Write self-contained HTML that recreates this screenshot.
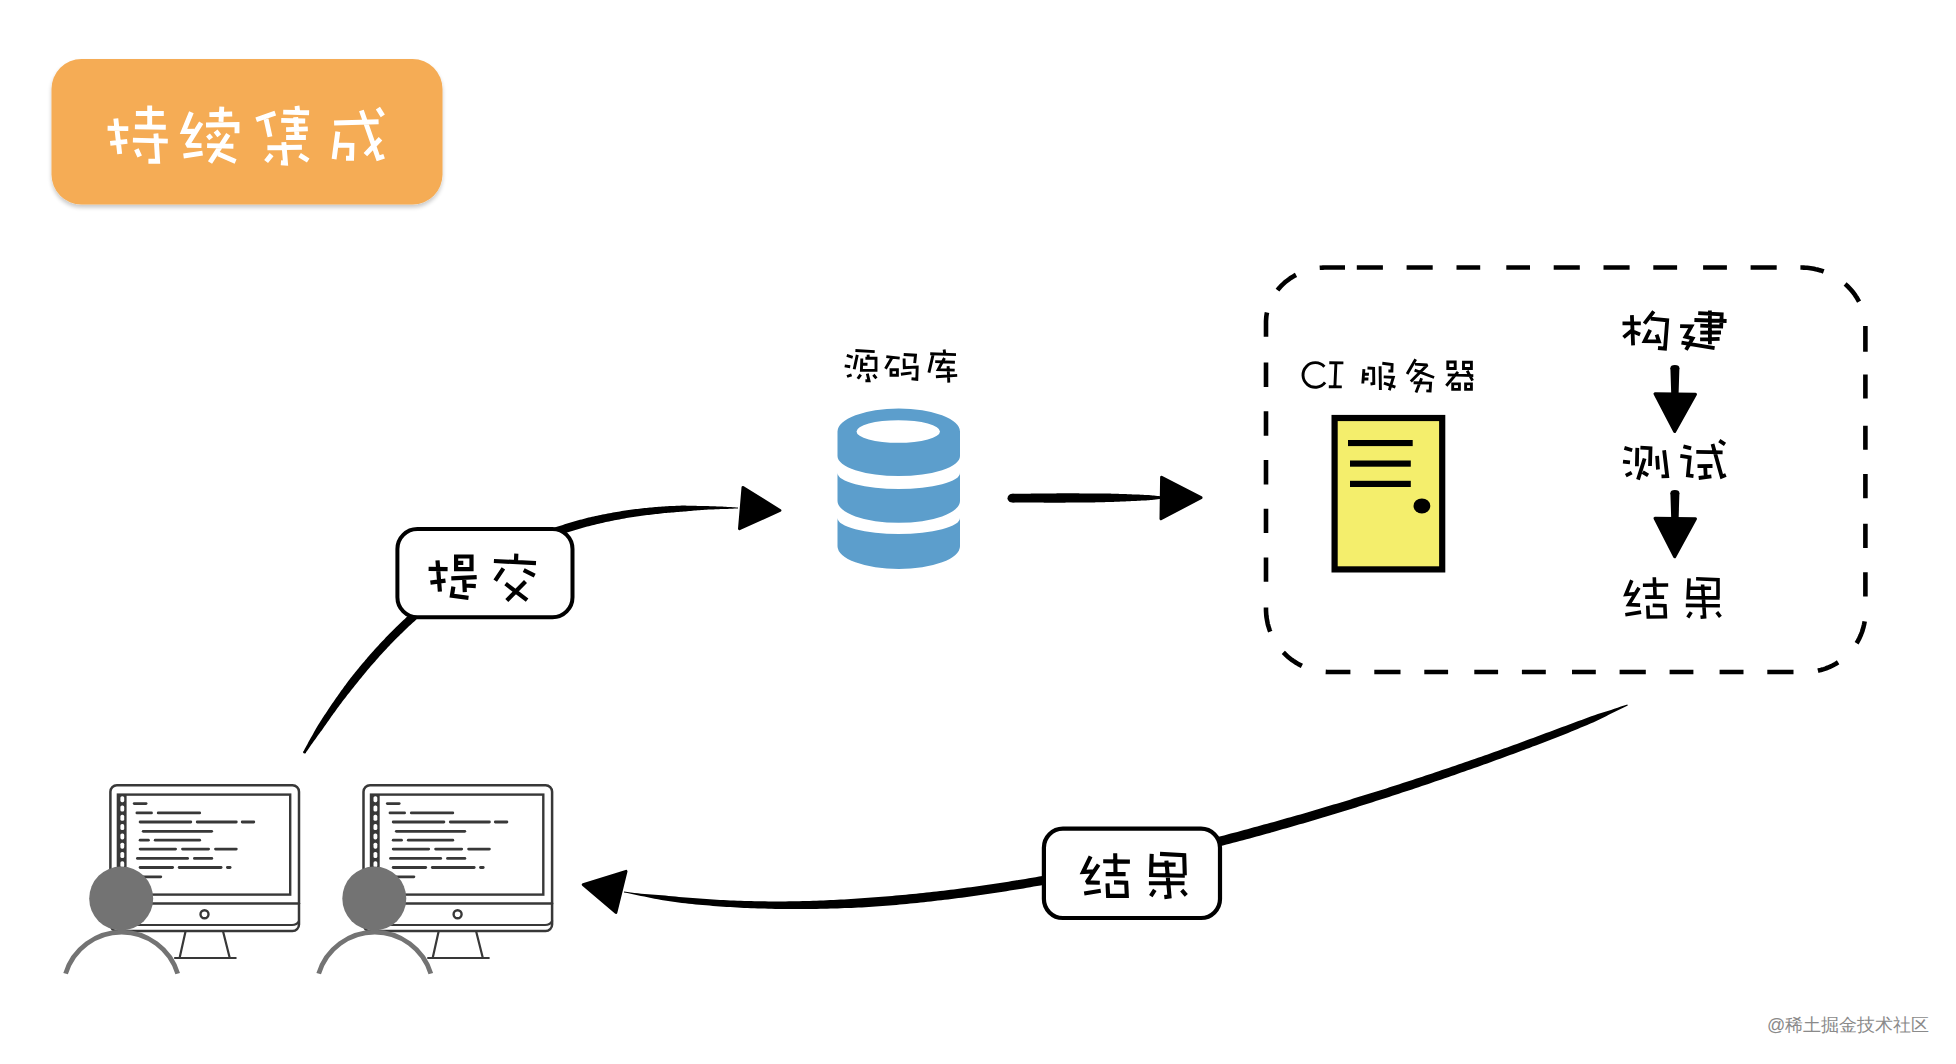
<!DOCTYPE html><html><head><meta charset="utf-8"><style>
html,body{margin:0;padding:0;background:#fff;width:1956px;height:1064px;overflow:hidden}
svg{position:absolute;left:0;top:0}
.t{font-family:"Liberation Sans",sans-serif}
</style></head><body>
<svg width="1956" height="1064" viewBox="0 0 1956 1064">
<defs>
<filter id="sh" x="-10%" y="-10%" width="120%" height="140%"><feGaussianBlur in="SourceAlpha" stdDeviation="2"/><feOffset dy="2.5"/><feComponentTransfer><feFuncA type="linear" slope="0.22"/></feComponentTransfer><feMerge><feMergeNode/><feMergeNode in="SourceGraphic"/></feMerge></filter>
</defs>

<rect x="51.5" y="59" width="391" height="145.5" rx="30" ry="30" fill="#F5AC55" filter="url(#sh)"/>
<path d="M1319.7,267.8 L1321.3,267.7 L1322.9,267.6 L1324.4,267.5 L1326.0,267.5 L1326.0,267.5 L1328.4,267.5 L1330.7,267.5 L1333.1,267.5 L1335.5,267.5 L1337.9,267.5 L1340.2,267.5 L1342.6,267.5 L1345.0,267.5 M1356.8,267.5 L1359.2,267.5 L1361.6,267.5 L1364.0,267.5 L1366.3,267.5 L1368.7,267.5 L1371.1,267.5 L1373.4,267.5 L1375.8,267.5 L1378.2,267.5 L1380.6,267.5 L1382.9,267.5 M1406.6,267.5 L1409.0,267.5 L1411.4,267.5 L1413.8,267.5 L1416.1,267.5 L1418.5,267.5 L1420.9,267.5 L1423.3,267.5 L1425.6,267.5 L1428.0,267.5 L1430.4,267.5 L1432.7,267.5 M1456.5,267.5 L1458.8,267.5 L1461.2,267.5 L1463.6,267.5 L1465.9,267.5 L1468.3,267.5 L1470.7,267.5 L1473.1,267.5 L1475.4,267.5 L1477.8,267.5 L1480.2,267.5 M1506.3,267.5 L1508.6,267.5 L1511.0,267.5 L1513.4,267.5 L1515.8,267.5 L1518.1,267.5 L1520.5,267.5 L1522.9,267.5 L1525.2,267.5 L1527.6,267.5 L1530.0,267.5 M1553.7,267.5 L1556.1,267.5 L1558.5,267.5 L1560.8,267.5 L1563.2,267.5 L1565.6,267.5 L1567.9,267.5 L1570.3,267.5 L1572.7,267.5 L1575.1,267.5 L1577.4,267.5 L1579.8,267.5 M1603.5,267.5 L1605.9,267.5 L1608.3,267.5 L1610.6,267.5 L1613.0,267.5 L1615.4,267.5 L1617.8,267.5 L1620.1,267.5 L1622.5,267.5 L1624.9,267.5 L1627.2,267.5 L1629.6,267.5 M1653.3,267.5 L1655.7,267.5 L1658.1,267.5 L1660.5,267.5 L1662.8,267.5 L1665.2,267.5 L1667.6,267.5 L1669.9,267.5 L1672.3,267.5 L1674.7,267.5 L1677.1,267.5 M1703.1,267.5 L1705.5,267.5 L1707.9,267.5 L1710.3,267.5 L1712.6,267.5 L1715.0,267.5 L1717.4,267.5 L1719.8,267.5 L1722.1,267.5 L1724.5,267.5 L1726.9,267.5 M1750.6,267.5 L1753.0,267.5 L1755.3,267.5 L1757.7,267.5 L1760.1,267.5 L1762.4,267.5 L1764.8,267.5 L1767.2,267.5 L1769.6,267.5 L1771.9,267.5 L1774.3,267.5 L1776.7,267.5 M1800.4,267.5 L1800.4,267.5 L1802.1,267.5 L1803.8,267.6 L1805.5,267.7 L1807.2,267.8 L1808.9,268.0 L1810.6,268.2 L1812.2,268.5 L1813.9,268.8 L1815.6,269.2 L1817.2,269.5 L1818.9,270.0 L1820.5,270.4 L1822.1,270.9 L1823.7,271.5 M1845.1,284.0 L1846.4,285.1 L1847.5,286.2 L1848.7,287.4 L1849.8,288.5 L1850.9,289.7 L1852.0,291.0 L1853.0,292.2 L1854.0,293.5 L1854.9,294.8 L1855.8,296.2 L1856.7,297.5 L1857.5,298.9 L1858.3,300.3 L1859.1,301.7 M1865.4,325.9 L1865.4,327.5 L1865.4,327.5 L1865.4,328.9 L1865.4,330.3 L1865.4,331.8 L1865.4,333.2 L1865.4,334.6 L1865.4,336.0 L1865.4,337.5 L1865.4,338.9 L1865.4,340.3 L1865.4,341.7 L1865.4,343.1 L1865.4,344.6 L1865.4,346.0 L1865.4,347.4 L1865.4,348.8 L1865.4,350.3 L1865.4,351.7 M1865.4,374.4 L1865.4,375.9 L1865.4,377.3 L1865.4,378.7 L1865.4,380.1 L1865.4,381.6 L1865.4,383.0 L1865.4,384.4 L1865.4,385.8 L1865.4,387.2 L1865.4,388.7 L1865.4,390.1 L1865.4,391.5 L1865.4,392.9 L1865.4,394.4 L1865.4,395.8 L1865.4,397.2 L1865.4,398.6 M1865.4,425.7 L1865.4,427.1 L1865.4,428.5 L1865.4,429.9 L1865.4,431.3 L1865.4,432.8 L1865.4,434.2 L1865.4,435.6 L1865.4,437.0 L1865.4,438.5 L1865.4,439.9 L1865.4,441.3 L1865.4,442.7 L1865.4,444.1 L1865.4,445.6 L1865.4,447.0 L1865.4,448.4 L1865.4,449.8 M1865.4,474.0 L1865.4,475.4 L1865.4,476.9 L1865.4,478.3 L1865.4,479.7 L1865.4,481.1 L1865.4,482.6 L1865.4,484.0 L1865.4,485.4 L1865.4,486.8 L1865.4,488.2 L1865.4,489.7 L1865.4,491.1 L1865.4,492.5 L1865.4,493.9 L1865.4,495.4 L1865.4,496.8 L1865.4,498.2 M1865.4,523.8 L1865.4,525.2 L1865.4,526.6 L1865.4,528.1 L1865.4,529.5 L1865.4,530.9 L1865.4,532.3 L1865.4,533.8 L1865.4,535.2 L1865.4,536.6 L1865.4,538.0 L1865.4,539.5 L1865.4,540.9 L1865.4,542.3 L1865.4,543.7 L1865.4,545.1 L1865.4,546.6 L1865.4,548.0 M1865.4,572.2 L1865.4,573.6 L1865.4,575.0 L1865.4,576.4 L1865.4,577.9 L1865.4,579.3 L1865.4,580.7 L1865.4,582.1 L1865.4,583.5 L1865.4,585.0 L1865.4,586.4 L1865.4,587.8 L1865.4,589.2 L1865.4,590.7 L1865.4,592.1 L1865.4,593.5 L1865.4,594.9 L1865.4,596.4 M1864.7,621.4 L1864.4,622.9 L1864.1,624.5 L1863.7,626.0 L1863.4,627.5 L1862.9,629.0 L1862.5,630.5 L1862.0,632.0 L1861.4,633.5 L1860.8,635.0 L1860.2,636.4 L1859.6,637.8 L1858.9,639.2 L1858.1,640.6 L1857.4,642.0 L1856.6,643.3 M1838.1,662.3 L1836.7,663.2 L1835.4,664.0 L1834.0,664.7 L1832.6,665.5 L1831.2,666.2 L1829.8,666.8 L1828.4,667.4 L1826.9,668.0 L1825.4,668.6 L1823.9,669.1 L1822.4,669.5 L1820.9,670.0 L1819.4,670.3 L1817.9,670.7 M1350.4,672.0 L1348.1,672.0 L1345.7,672.0 L1343.3,672.0 L1340.9,672.0 L1338.5,672.0 L1336.1,672.0 L1333.8,672.0 L1331.4,672.0 L1329.0,672.0 L1329.0,672.0 L1327.4,672.0 L1325.7,671.9 M1400.5,672.0 L1398.1,672.0 L1395.7,672.0 L1393.3,672.0 L1390.9,672.0 L1388.5,672.0 L1386.2,672.0 L1383.8,672.0 L1381.4,672.0 L1379.0,672.0 L1376.6,672.0 L1374.3,672.0 M1448.1,672.0 L1445.7,672.0 L1443.3,672.0 L1441.0,672.0 L1438.6,672.0 L1436.2,672.0 L1433.8,672.0 L1431.4,672.0 L1429.0,672.0 L1426.7,672.0 L1424.3,672.0 M1498.1,672.0 L1495.7,672.0 L1493.4,672.0 L1491.0,672.0 L1488.6,672.0 L1486.2,672.0 L1483.8,672.0 L1481.4,672.0 L1479.1,672.0 L1476.7,672.0 L1474.3,672.0 M1545.8,672.0 L1543.4,672.0 L1541.0,672.0 L1538.6,672.0 L1536.2,672.0 L1533.9,672.0 L1531.5,672.0 L1529.1,672.0 L1526.7,672.0 L1524.3,672.0 L1521.9,672.0 M1595.8,672.0 L1593.4,672.0 L1591.0,672.0 L1588.6,672.0 L1586.3,672.0 L1583.9,672.0 L1581.5,672.0 L1579.1,672.0 L1576.7,672.0 L1574.3,672.0 L1572.0,672.0 M1645.8,672.0 L1643.4,672.0 L1641.0,672.0 L1638.7,672.0 L1636.3,672.0 L1633.9,672.0 L1631.5,672.0 L1629.1,672.0 L1626.8,672.0 L1624.4,672.0 L1622.0,672.0 L1619.6,672.0 M1693.4,672.0 L1691.1,672.0 L1688.7,672.0 L1686.3,672.0 L1683.9,672.0 L1681.5,672.0 L1679.2,672.0 L1676.8,672.0 L1674.4,672.0 L1672.0,672.0 L1669.6,672.0 M1743.5,672.0 L1741.1,672.0 L1738.7,672.0 L1736.3,672.0 L1733.9,672.0 L1731.6,672.0 L1729.2,672.0 L1726.8,672.0 L1724.4,672.0 L1722.0,672.0 L1719.6,672.0 M1793.5,672.0 L1791.1,672.0 L1788.7,672.0 L1786.3,672.0 L1784.0,672.0 L1781.6,672.0 L1779.2,672.0 L1776.8,672.0 L1774.4,672.0 L1772.1,672.0 L1769.7,672.0 L1767.3,672.0 M1301.9,665.9 L1300.4,665.1 L1298.9,664.4 L1297.5,663.6 L1296.1,662.7 L1294.7,661.8 L1293.3,660.9 L1292.0,660.0 L1290.6,659.0 L1289.4,658.0 L1288.1,656.9 L1286.8,655.8 L1285.6,654.7 L1284.5,653.5 L1283.3,652.4 M1270.2,631.6 L1269.6,630.0 L1269.1,628.5 L1268.6,626.9 L1268.1,625.3 L1267.7,623.7 L1267.4,622.1 L1267.1,620.5 L1266.8,618.9 L1266.5,617.2 L1266.3,615.6 L1266.2,613.9 L1266.1,612.3 L1266.0,610.6 L1266.0,609.0 L1266.0,609.0 L1266.0,607.6 M1266.0,581.8 L1266.0,580.4 L1266.0,578.9 L1266.0,577.5 L1266.0,576.1 L1266.0,574.6 L1266.0,573.2 L1266.0,571.8 L1266.0,570.3 L1266.0,568.9 L1266.0,567.5 L1266.0,566.0 L1266.0,564.6 L1266.0,563.2 L1266.0,561.7 L1266.0,560.3 L1266.0,558.9 L1266.0,557.4 M1266.0,533.1 L1266.0,531.6 L1266.0,530.2 L1266.0,528.8 L1266.0,527.3 L1266.0,525.9 L1266.0,524.5 L1266.0,523.0 L1266.0,521.6 L1266.0,520.2 L1266.0,518.8 L1266.0,517.3 L1266.0,515.9 L1266.0,514.5 L1266.0,513.0 L1266.0,511.6 L1266.0,510.2 L1266.0,508.7 M1266.0,484.4 L1266.0,482.9 L1266.0,481.5 L1266.0,480.1 L1266.0,478.6 L1266.0,477.2 L1266.0,475.8 L1266.0,474.3 L1266.0,472.9 L1266.0,471.5 L1266.0,470.0 L1266.0,468.6 L1266.0,467.2 L1266.0,465.8 L1266.0,464.3 L1266.0,462.9 L1266.0,461.5 L1266.0,460.0 M1266.0,435.7 L1266.0,434.2 L1266.0,432.8 L1266.0,431.4 L1266.0,429.9 L1266.0,428.5 L1266.0,427.1 L1266.0,425.6 L1266.0,424.2 L1266.0,422.8 L1266.0,421.3 L1266.0,419.9 L1266.0,418.5 L1266.0,417.0 L1266.0,415.6 L1266.0,414.2 L1266.0,412.7 L1266.0,411.3 M1266.0,387.0 L1266.0,385.5 L1266.0,384.1 L1266.0,382.7 L1266.0,381.2 L1266.0,379.8 L1266.0,378.4 L1266.0,376.9 L1266.0,375.5 L1266.0,374.1 L1266.0,372.6 L1266.0,371.2 L1266.0,369.8 L1266.0,368.3 L1266.0,366.9 L1266.0,365.5 L1266.0,364.0 L1266.0,362.6 M1266.0,336.8 L1266.0,335.4 L1266.0,334.0 L1266.0,332.5 L1266.0,331.1 L1266.0,329.7 L1266.0,328.2 L1266.0,326.8 L1266.0,325.4 L1266.0,323.9 L1266.0,322.5 L1266.0,322.5 L1266.0,321.1 L1266.1,319.6 L1266.2,318.2 L1266.3,316.8 L1266.5,315.3 L1266.7,313.9 L1267.0,312.5 M1277.5,290.2 L1278.4,289.0 L1279.4,287.9 L1280.4,286.8 L1281.4,285.7 L1282.5,284.6 L1283.6,283.6 L1284.7,282.6 L1285.9,281.6 L1287.0,280.7 L1288.2,279.8 L1289.5,278.9 L1290.7,278.0 L1292.0,277.2 L1293.3,276.4 L1294.7,275.6 L1296.0,274.9" fill="none" stroke="#000" stroke-width="4.6" stroke-linecap="butt"/>
<path fill="#5C9ECC" fill-rule="evenodd" d="M837.5,431.5 A61.25,23 0 0 1 960,431.5 L960,456 A61.25,20 0 0 1 837.5,456 Z M856.5,431.5 A41.75,11.3 0 0 0 940,431.5 A41.75,11.3 0 0 0 856.5,431.5Z"/>
<path fill="#5C9ECC" d="M837.5,473 A61.25,16 0 0 0 960,473 L960,501 A61.25,21.8 0 0 1 837.5,501 Z"/>
<path fill="#5C9ECC" d="M837.5,518 A61.25,16 0 0 0 960,518 L960,546.3 A61.25,22.7 0 0 1 837.5,546.3 Z"/>
<rect x="1334.6" y="418" width="107.6" height="151.4" fill="#F4EE6C" stroke="#000" stroke-width="6.2"/>
<rect x="1348" y="440" width="64.7" height="6.1" fill="#000"/>
<rect x="1350" y="460.5" width="60.8" height="6.2" fill="#000"/>
<rect x="1350" y="480.8" width="60.8" height="6.2" fill="#000"/>
<ellipse cx="1421.9" cy="505.9" rx="8.4" ry="7.5" fill="#000"/>
<g transform="translate(0,0)" fill="none" stroke="#383838" stroke-linecap="round"><rect x="110.4" y="785.3" width="188.6" height="145.7" rx="6.5" stroke-width="2.5"/><line x1="110.4" y1="903.6" x2="299" y2="903.6" stroke-width="2.5"/><path d="M130,925 L292,925 Q297,925 299,921" stroke-width="2.1"/><rect x="117.9" y="794.6" width="172.3" height="100" stroke-width="2.4"/><rect x="118" y="794.6" width="8.6" height="100" fill="#383838" stroke="none"/><rect x="120.4" y="796.2" width="3.8" height="6" rx="1.6" fill="#fff" stroke="none"/><rect x="120.4" y="805.5" width="3.8" height="6" rx="1.6" fill="#fff" stroke="none"/><rect x="120.4" y="814.8" width="3.8" height="6" rx="1.6" fill="#fff" stroke="none"/><rect x="120.4" y="824.1" width="3.8" height="6" rx="1.6" fill="#fff" stroke="none"/><rect x="120.4" y="833.4" width="3.8" height="6" rx="1.6" fill="#fff" stroke="none"/><rect x="120.4" y="842.7" width="3.8" height="6" rx="1.6" fill="#fff" stroke="none"/><rect x="120.4" y="852.0" width="3.8" height="6" rx="1.6" fill="#fff" stroke="none"/><rect x="120.4" y="861.3" width="3.8" height="6" rx="1.6" fill="#fff" stroke="none"/><rect x="120.4" y="870.6" width="3.8" height="6" rx="1.6" fill="#fff" stroke="none"/><rect x="120.4" y="879.9" width="3.8" height="6" rx="1.6" fill="#fff" stroke="none"/><circle cx="204.5" cy="914.3" r="4" stroke-width="2.4"/><path d="M185.4,932 L179.8,957 M223.2,932 L229.5,957 M175,958 L235.7,958" stroke-width="2.2"/><line x1="134.2" y1="803.6" x2="146.1" y2="803.6" stroke-width="2.8"/><line x1="136.9" y1="812.9" x2="151.5" y2="812.9" stroke-width="2.8"/><line x1="158.2" y1="812.9" x2="199.7" y2="812.9" stroke-width="2.8"/><line x1="140.1" y1="822.0" x2="190.8" y2="822.0" stroke-width="2.8"/><line x1="197.2" y1="822.0" x2="236.3" y2="822.0" stroke-width="2.8"/><line x1="242.2" y1="822.0" x2="253.8" y2="822.0" stroke-width="2.8"/><line x1="143.2" y1="831.3" x2="211.7" y2="831.3" stroke-width="2.8"/><line x1="140.1" y1="840.2" x2="148.4" y2="840.2" stroke-width="2.8"/><line x1="155.2" y1="840.2" x2="199.7" y2="840.2" stroke-width="2.8"/><line x1="140.1" y1="849.1" x2="175.6" y2="849.1" stroke-width="2.8"/><line x1="182.5" y1="849.1" x2="208.6" y2="849.1" stroke-width="2.8"/><line x1="215.5" y1="849.1" x2="236.3" y2="849.1" stroke-width="2.8"/><line x1="137.4" y1="858.4" x2="187.6" y2="858.4" stroke-width="2.8"/><line x1="194.4" y1="858.4" x2="211.8" y2="858.4" stroke-width="2.8"/><line x1="140.1" y1="867.5" x2="172.6" y2="867.5" stroke-width="2.8"/><line x1="179.2" y1="867.5" x2="221.1" y2="867.5" stroke-width="2.8"/><line x1="227.4" y1="867.5" x2="230.1" y2="867.5" stroke-width="2.8"/><line x1="142.2" y1="876.8" x2="160.8" y2="876.8" stroke-width="2.8"/></g><g transform="translate(0,0)"><path d="M65.6,973.6 A58.6,58.6 0 0 1 177.7,973.6" fill="none" stroke="#737373" stroke-width="4.8" stroke-linecap="butt"/><circle cx="121.2" cy="898.5" r="32" fill="#737373"/></g>
<g transform="translate(253.1,0)" fill="none" stroke="#383838" stroke-linecap="round"><rect x="110.4" y="785.3" width="188.6" height="145.7" rx="6.5" stroke-width="2.5"/><line x1="110.4" y1="903.6" x2="299" y2="903.6" stroke-width="2.5"/><path d="M130,925 L292,925 Q297,925 299,921" stroke-width="2.1"/><rect x="117.9" y="794.6" width="172.3" height="100" stroke-width="2.4"/><rect x="118" y="794.6" width="8.6" height="100" fill="#383838" stroke="none"/><rect x="120.4" y="796.2" width="3.8" height="6" rx="1.6" fill="#fff" stroke="none"/><rect x="120.4" y="805.5" width="3.8" height="6" rx="1.6" fill="#fff" stroke="none"/><rect x="120.4" y="814.8" width="3.8" height="6" rx="1.6" fill="#fff" stroke="none"/><rect x="120.4" y="824.1" width="3.8" height="6" rx="1.6" fill="#fff" stroke="none"/><rect x="120.4" y="833.4" width="3.8" height="6" rx="1.6" fill="#fff" stroke="none"/><rect x="120.4" y="842.7" width="3.8" height="6" rx="1.6" fill="#fff" stroke="none"/><rect x="120.4" y="852.0" width="3.8" height="6" rx="1.6" fill="#fff" stroke="none"/><rect x="120.4" y="861.3" width="3.8" height="6" rx="1.6" fill="#fff" stroke="none"/><rect x="120.4" y="870.6" width="3.8" height="6" rx="1.6" fill="#fff" stroke="none"/><rect x="120.4" y="879.9" width="3.8" height="6" rx="1.6" fill="#fff" stroke="none"/><circle cx="204.5" cy="914.3" r="4" stroke-width="2.4"/><path d="M185.4,932 L179.8,957 M223.2,932 L229.5,957 M175,958 L235.7,958" stroke-width="2.2"/><line x1="134.2" y1="803.6" x2="146.1" y2="803.6" stroke-width="2.8"/><line x1="136.9" y1="812.9" x2="151.5" y2="812.9" stroke-width="2.8"/><line x1="158.2" y1="812.9" x2="199.7" y2="812.9" stroke-width="2.8"/><line x1="140.1" y1="822.0" x2="190.8" y2="822.0" stroke-width="2.8"/><line x1="197.2" y1="822.0" x2="236.3" y2="822.0" stroke-width="2.8"/><line x1="242.2" y1="822.0" x2="253.8" y2="822.0" stroke-width="2.8"/><line x1="143.2" y1="831.3" x2="211.7" y2="831.3" stroke-width="2.8"/><line x1="140.1" y1="840.2" x2="148.4" y2="840.2" stroke-width="2.8"/><line x1="155.2" y1="840.2" x2="199.7" y2="840.2" stroke-width="2.8"/><line x1="140.1" y1="849.1" x2="175.6" y2="849.1" stroke-width="2.8"/><line x1="182.5" y1="849.1" x2="208.6" y2="849.1" stroke-width="2.8"/><line x1="215.5" y1="849.1" x2="236.3" y2="849.1" stroke-width="2.8"/><line x1="137.4" y1="858.4" x2="187.6" y2="858.4" stroke-width="2.8"/><line x1="194.4" y1="858.4" x2="211.8" y2="858.4" stroke-width="2.8"/><line x1="140.1" y1="867.5" x2="172.6" y2="867.5" stroke-width="2.8"/><line x1="179.2" y1="867.5" x2="221.1" y2="867.5" stroke-width="2.8"/><line x1="227.4" y1="867.5" x2="230.1" y2="867.5" stroke-width="2.8"/><line x1="142.2" y1="876.8" x2="160.8" y2="876.8" stroke-width="2.8"/></g><g transform="translate(253.1,0)"><path d="M65.6,973.6 A58.6,58.6 0 0 1 177.7,973.6" fill="none" stroke="#737373" stroke-width="4.8" stroke-linecap="butt"/><circle cx="121.2" cy="898.5" r="32" fill="#737373"/></g>
<path fill="#000" d="M305.4,753.3 L306.4,751.8 L307.4,750.4 L308.4,748.9 L309.4,747.5 L310.4,746.1 L311.4,744.6 L312.4,743.2 L313.4,741.8 L314.5,740.3 L315.5,738.9 L316.5,737.5 L317.5,736.1 L318.6,734.6 L319.6,733.2 L320.6,731.8 L321.7,730.4 L322.7,729.0 L323.7,727.6 L324.7,726.1 L325.7,724.7 L326.7,723.2 L327.7,721.8 L328.7,720.4 L329.7,719.0 L330.7,717.5 L331.7,716.1 L332.7,714.7 L333.7,713.3 L334.8,711.9 L335.8,710.4 L336.8,709.0 L337.9,707.6 L338.9,706.2 L339.9,704.8 L341.0,703.4 L342.0,702.0 L343.1,700.6 L344.1,699.3 L345.2,697.9 L346.3,696.5 L347.3,695.1 L348.4,693.7 L349.5,692.4 L350.6,691.0 L351.7,689.6 L352.8,688.3 L353.8,686.9 L354.9,685.5 L356.0,684.2 L357.2,682.8 L358.2,681.5 L359.3,680.1 L360.4,678.7 L361.5,677.4 L362.6,676.0 L363.7,674.7 L364.9,673.3 L366.0,672.0 L367.1,670.6 L368.2,669.3 L369.3,668.0 L370.5,666.6 L371.6,665.3 L372.8,664.0 L373.9,662.7 L375.1,661.4 L376.2,660.0 L377.4,658.7 L378.5,657.4 L379.7,656.1 L380.9,654.8 L382.1,653.5 L383.2,652.3 L384.4,651.0 L385.6,649.7 L386.8,648.4 L388.0,647.1 L389.2,645.9 L390.4,644.6 L391.7,643.3 L392.9,642.1 L394.1,640.8 L395.3,639.6 L396.6,638.3 L397.8,637.1 L399.0,635.9 L400.3,634.6 L401.5,633.4 L402.8,632.2 L404.0,631.0 L405.3,629.7 L406.6,628.5 L407.9,627.3 L409.1,626.1 L410.4,624.9 L411.7,623.7 L413.0,622.6 L414.3,621.4 L415.6,620.2 L416.9,619.0 L418.2,617.9 L419.5,616.7 L420.8,615.5 L422.1,614.4 L423.5,613.2 L424.8,612.1 L426.1,611.0 L427.5,609.8 L428.8,608.7 L430.2,607.6 L431.5,606.5 L432.9,605.4 L434.2,604.3 L435.6,603.2 L437.0,602.1 L438.3,601.0 L439.7,599.9 L441.1,598.8 L442.5,597.8 L443.9,596.7 L445.3,595.6 L446.7,594.6 L448.1,593.5 L449.5,592.5 L450.9,591.4 L452.3,590.4 L453.7,589.4 L455.2,588.4 L456.6,587.4 L458.0,586.4 L459.4,585.4 L460.9,584.4 L462.3,583.4 L463.8,582.4 L465.2,581.4 L466.7,580.4 L468.1,579.5 L469.6,578.5 L471.1,577.6 L472.6,576.6 L474.0,575.7 L475.5,574.8 L477.0,573.8 L478.5,572.9 L480.0,572.0 L481.5,571.1 L483.0,570.2 L484.5,569.3 L486.0,568.4 L487.5,567.5 L489.0,566.7 L490.5,565.8 L492.0,564.9 L493.6,564.1 L495.1,563.2 L496.6,562.4 L498.2,561.6 L499.7,560.7 L501.2,559.9 L502.8,559.1 L504.3,558.3 L505.9,557.5 L507.4,556.7 L509.0,555.9 L510.6,555.1 L512.1,554.4 L513.7,553.6 L515.3,552.8 L516.8,552.1 L518.4,551.4 L520.0,550.6 L521.6,549.9 L523.2,549.2 L524.8,548.5 L526.4,547.7 L528.0,547.0 L529.6,546.4 L531.2,545.7 L532.8,545.0 L534.4,544.3 L536.0,543.7 L537.6,543.0 L539.2,542.3 L540.8,541.7 L542.5,541.1 L544.1,540.4 L545.7,539.8 L547.3,539.2 L549.0,538.6 L550.6,538.0 L552.2,537.4 L553.9,536.8 L555.5,536.3 L557.2,535.7 L558.8,535.1 L560.5,534.6 L562.1,534.0 L563.8,533.5 L565.4,532.9 L567.1,532.4 L568.8,531.9 L570.4,531.4 L572.1,530.9 L573.8,530.4 L575.4,529.9 L577.1,529.4 L578.8,528.9 L580.5,528.4 L582.1,528.0 L583.8,527.5 L585.5,527.1 L587.2,526.6 L588.9,526.2 L590.6,525.8 L592.3,525.3 L593.9,524.9 L595.6,524.5 L597.3,524.1 L599.0,523.7 L600.7,523.3 L602.4,522.9 L604.1,522.5 L605.8,522.1 L607.5,521.8 L609.2,521.4 L611.0,521.0 L612.7,520.7 L614.4,520.3 L616.1,520.0 L617.8,519.7 L619.5,519.4 L621.2,519.0 L623.0,518.7 L624.7,518.4 L626.4,518.1 L628.1,517.8 L629.8,517.6 L631.6,517.3 L633.3,517.0 L635.0,516.8 L636.7,516.5 L638.5,516.3 L640.2,516.0 L641.9,515.8 L643.7,515.5 L645.4,515.3 L647.1,515.1 L648.9,514.9 L650.6,514.7 L652.4,514.5 L654.1,514.3 L655.8,514.1 L657.6,513.9 L659.3,513.7 L661.1,513.5 L662.8,513.3 L664.5,513.1 L666.3,513.0 L668.0,512.8 L669.8,512.7 L671.5,512.5 L673.3,512.4 L675.0,512.2 L676.8,512.1 L678.5,512.0 L680.3,511.8 L682.0,511.7 L683.7,511.5 L685.5,511.4 L687.2,511.2 L689.0,511.0 L690.7,510.9 L692.5,510.7 L694.2,510.6 L696.0,510.4 L697.7,510.3 L699.5,510.2 L701.2,510.0 L703.0,509.9 L704.7,509.8 L706.5,509.7 L708.2,509.6 L710.0,509.6 L711.7,509.5 L713.5,509.4 L715.2,509.3 L717.0,509.3 L718.8,509.2 L720.5,509.1 L722.3,509.1 L724.0,509.0 L725.8,509.0 L727.5,508.9 L729.3,508.8 L731.0,508.7 L732.7,508.7 L734.5,508.6 L736.2,508.5 L738.0,508.4 L738.0,507.5 L736.3,507.4 L734.5,507.3 L732.8,507.2 L731.0,507.1 L729.3,507.0 L727.5,506.9 L725.8,506.8 L724.0,506.7 L722.3,506.6 L720.5,506.5 L718.8,506.5 L717.0,506.4 L715.2,506.3 L713.5,506.3 L711.7,506.2 L710.0,506.2 L708.2,506.1 L706.4,506.1 L704.7,506.1 L702.9,506.0 L701.2,506.0 L699.4,505.9 L697.6,505.9 L695.9,505.8 L694.1,505.8 L692.3,505.7 L690.6,505.7 L688.8,505.7 L687.0,505.7 L685.2,505.6 L683.5,505.6 L681.7,505.6 L679.9,505.7 L678.2,505.7 L676.4,505.8 L674.6,505.9 L672.9,506.0 L671.1,506.1 L669.3,506.1 L667.5,506.2 L665.8,506.3 L664.0,506.5 L662.2,506.6 L660.5,506.7 L658.7,506.8 L656.9,506.9 L655.2,507.1 L653.4,507.2 L651.6,507.4 L649.9,507.5 L648.1,507.7 L646.3,507.9 L644.6,508.1 L642.8,508.3 L641.0,508.5 L639.3,508.7 L637.5,508.9 L635.7,509.1 L634.0,509.3 L632.2,509.6 L630.5,509.8 L628.7,510.0 L626.9,510.3 L625.2,510.5 L623.4,510.8 L621.7,511.1 L619.9,511.4 L618.2,511.7 L616.4,511.9 L614.7,512.3 L612.9,512.6 L611.2,512.9 L609.4,513.2 L607.7,513.5 L605.9,513.9 L604.2,514.2 L602.4,514.6 L600.7,514.9 L599.0,515.3 L597.2,515.7 L595.5,516.0 L593.7,516.4 L592.0,516.8 L590.3,517.2 L588.5,517.6 L586.8,518.1 L585.1,518.5 L583.4,518.9 L581.7,519.4 L579.9,519.8 L578.2,520.3 L576.5,520.8 L574.8,521.3 L573.1,521.8 L571.4,522.3 L569.7,522.8 L568.0,523.3 L566.3,523.8 L564.6,524.3 L562.9,524.9 L561.2,525.4 L559.5,526.0 L557.8,526.5 L556.1,527.1 L554.4,527.7 L552.7,528.2 L551.1,528.8 L549.4,529.4 L547.7,530.0 L546.0,530.6 L544.4,531.3 L542.7,531.9 L541.0,532.5 L539.4,533.2 L537.7,533.8 L536.1,534.5 L534.4,535.1 L532.8,535.8 L531.1,536.5 L529.5,537.2 L527.8,537.9 L526.2,538.6 L524.6,539.3 L522.9,540.0 L521.3,540.7 L519.7,541.5 L518.1,542.2 L516.4,543.0 L514.8,543.7 L513.2,544.5 L511.6,545.2 L510.0,546.0 L508.4,546.8 L506.8,547.6 L505.2,548.4 L503.6,549.2 L502.0,550.0 L500.4,550.8 L498.9,551.6 L497.3,552.5 L495.7,553.3 L494.1,554.1 L492.6,555.0 L491.0,555.9 L489.5,556.7 L487.9,557.6 L486.4,558.5 L484.8,559.4 L483.3,560.3 L481.7,561.2 L480.2,562.1 L478.7,563.0 L477.1,563.9 L475.6,564.8 L474.1,565.8 L472.6,566.7 L471.0,567.6 L469.5,568.6 L468.0,569.6 L466.5,570.5 L465.0,571.5 L463.5,572.5 L462.1,573.5 L460.6,574.4 L459.1,575.4 L457.6,576.5 L456.1,577.5 L454.7,578.5 L453.2,579.5 L451.7,580.5 L450.3,581.6 L448.8,582.6 L447.4,583.7 L446.0,584.7 L444.5,585.8 L443.1,586.8 L441.7,587.9 L440.2,589.0 L438.8,590.1 L437.4,591.1 L436.0,592.2 L434.6,593.3 L433.2,594.4 L431.8,595.5 L430.4,596.7 L429.0,597.8 L427.6,598.9 L426.2,600.0 L424.8,601.2 L423.5,602.3 L422.1,603.5 L420.7,604.6 L419.4,605.8 L418.0,606.9 L416.7,608.1 L415.3,609.3 L414.0,610.5 L412.7,611.7 L411.3,612.8 L410.0,614.0 L408.7,615.2 L407.4,616.4 L406.1,617.6 L404.8,618.9 L403.5,620.1 L402.2,621.3 L400.9,622.5 L399.6,623.8 L398.3,625.0 L397.0,626.2 L395.7,627.5 L394.5,628.7 L393.2,630.0 L392.0,631.3 L390.7,632.5 L389.4,633.8 L388.2,635.1 L387.0,636.3 L385.7,637.6 L384.5,638.9 L383.3,640.2 L382.0,641.5 L380.8,642.8 L379.6,644.1 L378.4,645.4 L377.2,646.7 L376.0,648.0 L374.8,649.3 L373.6,650.7 L372.4,652.0 L371.3,653.3 L370.1,654.6 L368.9,656.0 L367.7,657.3 L366.6,658.7 L365.4,660.0 L364.3,661.4 L363.1,662.7 L362.0,664.1 L360.8,665.4 L359.7,666.8 L358.6,668.2 L357.5,669.5 L356.3,670.9 L355.2,672.3 L354.1,673.7 L353.0,675.0 L351.9,676.4 L350.8,677.8 L349.7,679.2 L348.7,680.6 L347.6,682.0 L346.5,683.5 L345.5,684.9 L344.4,686.3 L343.4,687.7 L342.4,689.2 L341.3,690.6 L340.3,692.0 L339.3,693.5 L338.2,694.9 L337.2,696.4 L336.2,697.8 L335.2,699.2 L334.2,700.7 L333.2,702.2 L332.2,703.6 L331.2,705.1 L330.2,706.5 L329.2,708.0 L328.2,709.5 L327.3,710.9 L326.3,712.4 L325.3,713.9 L324.3,715.3 L323.4,716.8 L322.4,718.3 L321.5,719.8 L320.5,721.2 L319.6,722.7 L318.6,724.2 L317.7,725.7 L316.8,727.2 L315.9,728.8 L315.1,730.3 L314.2,731.8 L313.3,733.4 L312.5,734.9 L311.6,736.4 L310.7,738.0 L309.9,739.5 L309.0,741.1 L308.2,742.6 L307.4,744.2 L306.5,745.7 L305.7,747.3 L304.8,748.8 L304.0,750.4 L303.2,751.9Z"/>
<circle cx="304.6" cy="752.2" r="1.3" fill="#000"/>
<path fill="#000" stroke="#000" stroke-width="3" stroke-linejoin="round" d="M743,487.5 L779.9,510.4 L739.5,528.7 Z"/>
<path fill="#000" d="M1627.4,704.4 L1624.1,705.5 L1620.8,706.6 L1617.6,707.7 L1614.3,708.8 L1611.0,709.9 L1607.7,710.9 L1604.4,712.0 L1601.1,713.1 L1597.8,714.1 L1594.5,715.2 L1591.3,716.2 L1588.0,717.5 L1584.8,718.7 L1581.6,719.9 L1578.3,721.1 L1575.1,722.3 L1571.9,723.5 L1568.6,724.7 L1565.4,725.9 L1562.2,727.0 L1558.9,728.2 L1555.7,729.5 L1552.5,730.7 L1549.2,731.9 L1546.0,733.1 L1542.8,734.3 L1539.6,735.5 L1536.3,736.7 L1533.1,737.9 L1529.9,739.1 L1526.6,740.3 L1523.4,741.5 L1520.1,742.7 L1516.9,743.9 L1513.7,745.1 L1510.4,746.3 L1507.2,747.4 L1503.9,748.6 L1500.7,749.8 L1497.4,750.9 L1494.2,752.1 L1490.9,753.2 L1487.7,754.4 L1484.4,755.5 L1481.2,756.7 L1477.9,757.8 L1474.6,759.0 L1471.4,760.1 L1468.1,761.2 L1464.9,762.3 L1461.6,763.5 L1458.3,764.6 L1455.1,765.7 L1451.8,766.8 L1448.5,767.9 L1445.3,769.0 L1442.0,770.1 L1438.7,771.2 L1435.5,772.3 L1432.2,773.4 L1428.9,774.5 L1425.6,775.6 L1422.4,776.7 L1419.1,777.8 L1415.8,778.8 L1412.5,779.9 L1409.2,781.0 L1406.0,782.0 L1402.7,783.1 L1399.4,784.2 L1396.1,785.2 L1392.8,786.3 L1389.5,787.3 L1386.3,788.4 L1383.0,789.4 L1379.7,790.4 L1376.4,791.5 L1373.1,792.5 L1369.8,793.5 L1366.5,794.6 L1363.2,795.6 L1359.9,796.6 L1356.6,797.6 L1353.3,798.6 L1350.0,799.7 L1346.7,800.7 L1343.4,801.7 L1340.1,802.7 L1336.8,803.7 L1333.5,804.6 L1330.2,805.6 L1326.9,806.6 L1323.6,807.6 L1320.3,808.6 L1317.0,809.5 L1313.7,810.5 L1310.4,811.5 L1307.1,812.4 L1303.8,813.4 L1300.4,814.4 L1297.1,815.3 L1293.8,816.3 L1290.5,817.2 L1287.2,818.1 L1283.9,819.1 L1280.5,820.0 L1277.2,820.9 L1273.9,821.9 L1270.6,822.8 L1267.3,823.7 L1263.9,824.6 L1260.6,825.5 L1257.3,826.4 L1253.9,827.3 L1250.6,828.3 L1247.3,829.2 L1244.0,830.1 L1240.6,831.0 L1237.3,831.9 L1234.0,832.7 L1230.7,833.6 L1227.3,834.5 L1224.0,835.4 L1220.7,836.3 L1217.3,837.1 L1214.0,838.0 L1210.6,838.9 L1207.3,839.7 L1204.0,840.6 L1200.6,841.4 L1197.3,842.3 L1193.9,843.1 L1190.6,843.9 L1187.3,844.8 L1183.9,845.6 L1180.6,846.4 L1177.2,847.3 L1173.9,848.1 L1170.5,848.9 L1167.2,849.7 L1163.8,850.5 L1160.5,851.3 L1157.1,852.1 L1153.7,852.9 L1150.4,853.6 L1147.0,854.4 L1143.7,855.2 L1140.3,856.0 L1136.9,856.7 L1133.6,857.5 L1130.2,858.2 L1126.9,859.0 L1123.5,859.7 L1120.1,860.5 L1116.8,861.2 L1113.4,861.9 L1110.0,862.6 L1106.6,863.4 L1103.3,864.1 L1099.9,864.8 L1096.5,865.5 L1093.1,866.2 L1089.8,866.9 L1086.4,867.6 L1083.0,868.2 L1079.6,868.9 L1076.3,869.6 L1072.9,870.2 L1069.5,870.9 L1066.1,871.6 L1062.7,872.2 L1059.3,872.8 L1055.9,873.5 L1052.6,874.1 L1049.2,874.7 L1045.8,875.4 L1042.4,876.0 L1039.0,876.6 L1035.6,877.2 L1032.2,877.7 L1028.8,878.3 L1025.4,878.9 L1022.0,879.5 L1018.6,880.0 L1015.2,880.6 L1011.8,881.1 L1008.4,881.7 L1005.0,882.2 L1001.6,882.7 L998.2,883.3 L994.8,883.8 L991.4,884.3 L987.9,884.8 L984.5,885.3 L981.1,885.8 L977.7,886.2 L974.3,886.7 L970.9,887.2 L967.5,887.6 L964.1,888.1 L960.6,888.5 L957.2,889.0 L953.8,889.4 L950.4,889.8 L947.0,890.3 L943.5,890.7 L940.1,891.1 L936.7,891.5 L933.3,891.8 L929.8,892.2 L926.4,892.6 L923.0,893.0 L919.6,893.3 L916.1,893.7 L912.7,894.0 L909.3,894.3 L905.9,894.7 L902.4,895.0 L899.0,895.3 L895.6,895.6 L892.1,895.9 L888.7,896.2 L885.3,896.4 L881.8,896.7 L878.4,897.0 L875.0,897.2 L871.5,897.4 L868.1,897.7 L864.7,898.0 L861.2,898.2 L857.8,898.5 L854.4,898.7 L850.9,899.0 L847.5,899.2 L844.1,899.4 L840.6,899.6 L837.2,899.8 L833.7,900.0 L830.3,900.1 L826.9,900.3 L823.4,900.5 L820.0,900.6 L816.5,900.7 L813.1,900.8 L809.7,900.9 L806.2,901.0 L802.8,901.1 L799.3,901.2 L795.9,901.3 L792.5,901.3 L789.0,901.3 L785.6,901.4 L782.1,901.4 L778.7,901.4 L775.2,901.4 L771.8,901.4 L768.4,901.4 L764.9,901.3 L761.5,901.3 L758.0,901.2 L754.6,901.2 L751.2,901.1 L747.7,901.0 L744.3,900.9 L740.8,900.8 L737.4,900.7 L734.0,900.5 L730.5,900.4 L727.1,900.2 L723.6,900.1 L720.2,899.9 L716.8,899.7 L713.3,899.5 L709.9,899.3 L706.5,899.0 L703.0,898.8 L699.6,898.5 L696.2,898.3 L692.7,898.0 L689.3,897.7 L685.9,897.5 L682.4,897.2 L679.0,896.9 L675.6,896.6 L672.2,896.2 L668.7,895.9 L665.3,895.5 L661.9,895.3 L658.4,895.1 L655.0,894.8 L651.5,894.6 L648.1,894.3 L644.7,894.0 L641.2,893.7 L637.8,893.3 L634.4,892.9 L630.9,892.5 L627.5,892.1 L624.1,891.6 L623.9,892.4 L627.3,893.1 L630.7,893.8 L634.1,894.5 L637.5,895.2 L640.9,895.9 L644.3,896.6 L647.7,897.3 L651.1,898.0 L654.5,898.7 L657.9,899.3 L661.3,900.0 L664.7,900.6 L668.1,901.1 L671.5,901.5 L675.0,902.0 L678.4,902.4 L681.9,902.9 L685.3,903.3 L688.7,903.7 L692.2,904.1 L695.6,904.4 L699.1,904.7 L702.5,905.0 L706.0,905.3 L709.4,905.6 L712.9,905.9 L716.3,906.2 L719.8,906.4 L723.2,906.7 L726.7,906.9 L730.2,907.1 L733.6,907.3 L737.1,907.5 L740.5,907.7 L744.0,907.9 L747.5,908.0 L750.9,908.2 L754.4,908.3 L757.8,908.4 L761.3,908.5 L764.8,908.6 L768.2,908.7 L771.7,908.8 L775.2,908.9 L778.6,908.9 L782.1,909.0 L785.6,909.0 L789.0,909.0 L792.5,909.1 L796.0,909.1 L799.4,909.1 L802.9,909.0 L806.4,909.0 L809.8,909.0 L813.3,908.9 L816.8,908.9 L820.2,908.8 L823.7,908.7 L827.2,908.7 L830.6,908.6 L834.1,908.5 L837.5,908.4 L841.0,908.3 L844.5,908.1 L847.9,908.0 L851.4,907.9 L854.9,907.7 L858.3,907.6 L861.8,907.4 L865.3,907.2 L868.7,907.0 L872.2,906.8 L875.6,906.6 L879.1,906.3 L882.6,906.0 L886.0,905.8 L889.5,905.5 L892.9,905.2 L896.4,904.9 L899.8,904.6 L903.3,904.3 L906.7,903.9 L910.2,903.6 L913.6,903.3 L917.1,902.9 L920.5,902.6 L924.0,902.2 L927.4,901.8 L930.9,901.4 L934.3,901.0 L937.8,900.6 L941.2,900.2 L944.6,899.8 L948.1,899.4 L951.5,899.0 L955.0,898.5 L958.4,898.1 L961.8,897.7 L965.3,897.2 L968.7,896.7 L972.1,896.3 L975.6,895.8 L979.0,895.3 L982.4,894.8 L985.8,894.3 L989.3,893.8 L992.7,893.3 L996.1,892.8 L999.6,892.2 L1003.0,891.7 L1006.4,891.2 L1009.8,890.6 L1013.2,890.1 L1016.7,889.5 L1020.1,889.0 L1023.5,888.4 L1026.9,887.8 L1030.3,887.2 L1033.7,886.6 L1037.1,886.0 L1040.6,885.4 L1044.0,884.8 L1047.4,884.2 L1050.8,883.6 L1054.2,883.0 L1057.6,882.4 L1061.0,881.7 L1064.4,881.1 L1067.8,880.5 L1071.2,879.8 L1074.6,879.2 L1078.0,878.5 L1081.4,877.8 L1084.8,877.2 L1088.2,876.5 L1091.6,875.8 L1095.0,875.1 L1098.4,874.4 L1101.8,873.8 L1105.1,873.1 L1108.5,872.3 L1111.9,871.6 L1115.3,870.9 L1118.7,870.2 L1122.1,869.5 L1125.5,868.7 L1128.8,868.0 L1132.2,867.3 L1135.6,866.5 L1139.0,865.8 L1142.4,865.0 L1145.7,864.2 L1149.1,863.5 L1152.5,862.7 L1155.8,861.9 L1159.2,861.1 L1162.6,860.4 L1166.0,859.6 L1169.3,858.8 L1172.7,858.0 L1176.1,857.2 L1179.4,856.4 L1182.8,855.6 L1186.1,854.7 L1189.5,853.9 L1192.9,853.1 L1196.2,852.3 L1199.6,851.4 L1202.9,850.6 L1206.3,849.7 L1209.6,848.9 L1213.0,848.0 L1216.3,847.2 L1219.7,846.3 L1223.0,845.5 L1226.4,844.6 L1229.7,843.7 L1233.1,842.8 L1236.4,842.0 L1239.8,841.1 L1243.1,840.2 L1246.5,839.3 L1249.8,838.4 L1253.1,837.5 L1256.5,836.6 L1259.8,835.7 L1263.1,834.8 L1266.5,833.8 L1269.8,832.9 L1273.1,832.0 L1276.5,831.0 L1279.8,830.1 L1283.1,829.1 L1286.4,828.2 L1289.8,827.2 L1293.1,826.3 L1296.4,825.3 L1299.7,824.3 L1303.1,823.4 L1306.4,822.4 L1309.7,821.4 L1313.0,820.4 L1316.3,819.5 L1319.6,818.5 L1322.9,817.5 L1326.3,816.5 L1329.6,815.5 L1332.9,814.5 L1336.2,813.5 L1339.5,812.5 L1342.8,811.4 L1346.1,810.4 L1349.4,809.4 L1352.7,808.4 L1356.0,807.4 L1359.3,806.3 L1362.6,805.3 L1365.9,804.3 L1369.2,803.2 L1372.5,802.2 L1375.8,801.1 L1379.1,800.1 L1382.4,799.0 L1385.7,798.0 L1389.0,796.9 L1392.3,795.8 L1395.6,794.8 L1398.9,793.7 L1402.1,792.6 L1405.4,791.5 L1408.7,790.5 L1412.0,789.4 L1415.3,788.3 L1418.6,787.2 L1421.8,786.1 L1425.1,785.0 L1428.4,783.9 L1431.7,782.8 L1435.0,781.6 L1438.2,780.5 L1441.5,779.4 L1444.8,778.3 L1448.0,777.2 L1451.3,776.0 L1454.6,774.9 L1457.8,773.8 L1461.1,772.6 L1464.4,771.5 L1467.6,770.3 L1470.9,769.2 L1474.2,768.0 L1477.4,766.9 L1480.7,765.7 L1483.9,764.5 L1487.2,763.4 L1490.5,762.2 L1493.7,761.0 L1497.0,759.8 L1500.2,758.7 L1503.5,757.5 L1506.7,756.3 L1510.0,755.1 L1513.2,753.9 L1516.5,752.7 L1519.7,751.5 L1522.9,750.3 L1526.2,749.1 L1529.4,747.9 L1532.7,746.6 L1535.9,745.4 L1539.1,744.2 L1542.4,743.0 L1545.6,741.7 L1548.8,740.5 L1552.0,739.3 L1555.3,738.0 L1558.5,736.8 L1561.7,735.5 L1564.9,734.2 L1568.1,732.9 L1571.3,731.6 L1574.5,730.3 L1577.7,728.9 L1580.9,727.6 L1584.1,726.3 L1587.3,724.9 L1590.5,723.6 L1593.7,722.3 L1596.8,720.8 L1599.9,719.2 L1603.0,717.7 L1606.1,716.2 L1609.2,714.6 L1612.3,713.1 L1615.4,711.6 L1618.5,710.0 L1621.6,708.5 L1624.7,706.9 L1627.8,705.4Z"/>
<path fill="#000" stroke="#000" stroke-width="3" stroke-linejoin="round" d="M583.2,884.6 L626,871.4 L615.9,912.4 Z"/>
<path fill="#000" d="M1012.5,502.6 L1013.5,502.6 L1014.5,502.6 L1015.5,502.6 L1016.5,502.6 L1017.5,502.6 L1018.5,502.6 L1019.4,502.6 L1020.4,502.6 L1021.4,502.6 L1022.4,502.6 L1023.4,502.6 L1024.4,502.6 L1025.4,502.6 L1026.4,502.6 L1027.4,502.6 L1028.4,502.6 L1029.3,502.6 L1030.3,502.6 L1031.3,502.6 L1032.3,502.6 L1033.3,502.6 L1034.3,502.6 L1035.3,502.6 L1036.3,502.6 L1037.3,502.6 L1038.3,502.6 L1039.2,502.6 L1040.2,502.6 L1041.2,502.6 L1042.2,502.6 L1043.2,502.6 L1044.2,502.7 L1045.2,502.7 L1046.2,502.7 L1047.2,502.7 L1048.2,502.7 L1049.1,502.7 L1050.1,502.7 L1051.1,502.7 L1052.1,502.7 L1053.1,502.7 L1054.1,502.7 L1055.1,502.7 L1056.1,502.7 L1057.1,502.7 L1058.1,502.7 L1059.0,502.7 L1060.0,502.7 L1061.0,502.7 L1062.0,502.7 L1063.0,502.7 L1064.0,502.7 L1065.0,502.7 L1066.0,502.6 L1067.0,502.6 L1068.0,502.6 L1068.9,502.6 L1069.9,502.6 L1070.9,502.6 L1071.9,502.6 L1072.9,502.6 L1073.9,502.6 L1074.9,502.6 L1075.9,502.5 L1076.9,502.5 L1077.9,502.5 L1078.8,502.5 L1079.8,502.5 L1080.8,502.5 L1081.8,502.5 L1082.8,502.5 L1083.8,502.5 L1084.8,502.5 L1085.8,502.4 L1086.8,502.4 L1087.8,502.4 L1088.7,502.4 L1089.7,502.4 L1090.7,502.4 L1091.7,502.4 L1092.7,502.4 L1093.7,502.4 L1094.7,502.4 L1095.7,502.3 L1096.7,502.3 L1097.7,502.3 L1098.6,502.3 L1099.6,502.3 L1100.6,502.3 L1101.6,502.2 L1102.6,502.2 L1103.6,502.2 L1104.6,502.2 L1105.6,502.1 L1106.6,502.1 L1107.6,502.1 L1108.5,502.0 L1109.5,502.0 L1110.5,502.0 L1111.5,501.9 L1112.5,501.9 L1113.5,501.9 L1114.5,501.8 L1115.5,501.8 L1116.5,501.8 L1117.5,501.7 L1118.4,501.7 L1119.4,501.7 L1120.4,501.6 L1121.4,501.6 L1122.4,501.5 L1123.4,501.5 L1124.4,501.4 L1125.4,501.4 L1126.4,501.3 L1127.4,501.3 L1128.3,501.3 L1129.3,501.2 L1130.3,501.2 L1131.3,501.1 L1132.3,501.1 L1133.3,501.0 L1134.3,501.0 L1135.3,500.9 L1136.3,500.9 L1137.3,500.8 L1138.2,500.8 L1139.2,500.7 L1140.2,500.7 L1141.2,500.6 L1142.2,500.6 L1143.2,500.5 L1144.2,500.5 L1145.2,500.4 L1146.2,500.4 L1147.2,500.3 L1148.1,500.2 L1149.1,500.2 L1150.1,500.1 L1151.1,500.0 L1152.1,499.9 L1153.1,499.8 L1154.1,499.7 L1155.1,499.5 L1156.1,499.4 L1157.0,499.3 L1158.0,499.2 L1159.0,499.1 L1160.0,499.0 L1161.0,498.8 L1161.0,496.4 L1160.0,496.2 L1159.0,496.1 L1158.0,496.0 L1157.0,495.9 L1156.0,495.8 L1155.1,495.7 L1154.1,495.6 L1153.1,495.5 L1152.1,495.4 L1151.1,495.3 L1150.1,495.2 L1149.1,495.1 L1148.1,495.1 L1147.1,495.0 L1146.1,495.0 L1145.1,494.9 L1144.2,494.9 L1143.2,494.8 L1142.2,494.8 L1141.2,494.7 L1140.2,494.7 L1139.2,494.6 L1138.2,494.6 L1137.2,494.6 L1136.2,494.5 L1135.2,494.5 L1134.3,494.4 L1133.3,494.4 L1132.3,494.4 L1131.3,494.3 L1130.3,494.3 L1129.3,494.2 L1128.3,494.2 L1127.3,494.2 L1126.3,494.1 L1125.3,494.1 L1124.4,494.1 L1123.4,494.0 L1122.4,494.0 L1121.4,494.0 L1120.4,493.9 L1119.4,493.9 L1118.4,493.8 L1117.4,493.8 L1116.4,493.8 L1115.4,493.8 L1114.5,493.7 L1113.5,493.7 L1112.5,493.7 L1111.5,493.7 L1110.5,493.6 L1109.5,493.6 L1108.5,493.6 L1107.5,493.6 L1106.5,493.6 L1105.5,493.5 L1104.6,493.5 L1103.6,493.5 L1102.6,493.5 L1101.6,493.4 L1100.6,493.4 L1099.6,493.4 L1098.6,493.4 L1097.6,493.4 L1096.6,493.4 L1095.6,493.4 L1094.7,493.4 L1093.7,493.4 L1092.7,493.4 L1091.7,493.4 L1090.7,493.4 L1089.7,493.4 L1088.7,493.4 L1087.7,493.4 L1086.7,493.4 L1085.7,493.4 L1084.8,493.4 L1083.8,493.4 L1082.8,493.4 L1081.8,493.4 L1080.8,493.4 L1079.8,493.4 L1078.8,493.3 L1077.8,493.3 L1076.8,493.3 L1075.8,493.3 L1074.9,493.3 L1073.9,493.3 L1072.9,493.3 L1071.9,493.3 L1070.9,493.3 L1069.9,493.3 L1068.9,493.3 L1067.9,493.3 L1066.9,493.3 L1065.9,493.3 L1065.0,493.3 L1064.0,493.3 L1063.0,493.3 L1062.0,493.3 L1061.0,493.3 L1060.0,493.3 L1059.0,493.3 L1058.0,493.3 L1057.0,493.3 L1056.0,493.4 L1055.1,493.4 L1054.1,493.4 L1053.1,493.4 L1052.1,493.4 L1051.1,493.4 L1050.1,493.4 L1049.1,493.4 L1048.1,493.4 L1047.1,493.5 L1046.1,493.5 L1045.2,493.5 L1044.2,493.5 L1043.2,493.5 L1042.2,493.5 L1041.2,493.5 L1040.2,493.5 L1039.2,493.5 L1038.2,493.6 L1037.2,493.6 L1036.2,493.6 L1035.3,493.6 L1034.3,493.6 L1033.3,493.6 L1032.3,493.6 L1031.3,493.6 L1030.3,493.7 L1029.3,493.7 L1028.3,493.7 L1027.3,493.7 L1026.3,493.7 L1025.4,493.7 L1024.4,493.7 L1023.4,493.7 L1022.4,493.7 L1021.4,493.8 L1020.4,493.8 L1019.4,493.8 L1018.4,493.8 L1017.4,493.8 L1016.4,493.8 L1015.5,493.8 L1014.5,493.8 L1013.5,493.8 L1012.5,493.8Z"/>
<ellipse cx="1012.5" cy="498.2" rx="5" ry="4.35" fill="#000"/>
<path fill="#000" stroke="#000" stroke-width="3" stroke-linejoin="round" d="M1161.6,477.3 L1201,497.7 L1161,518.7 Z"/>
<path fill="#000" d="M1670.4,367.9 L1671.2,394.0 L1678.6,394.0 L1679.4,367.9Z"/>
<ellipse cx="1674.9" cy="367.9" rx="4.5" ry="3" fill="#000"/>
<path fill="#000" stroke="#000" stroke-width="3" stroke-linejoin="round" d="M1655,393.8 L1695.5,394.3 L1674.7,431.5 Z"/>
<path fill="#000" d="M1670.4,493.0 L1671.2,519.0 L1678.6,519.0 L1679.4,493.0Z"/>
<ellipse cx="1674.9" cy="493" rx="4.5" ry="3" fill="#000"/>
<path fill="#000" stroke="#000" stroke-width="3" stroke-linejoin="round" d="M1655,518.3 L1695.5,518.8 L1674.7,556.8 Z"/>
<rect x="397.4" y="529" width="175.1" height="88.3" rx="20" fill="#fff" stroke="#000" stroke-width="4"/>
<rect x="1043.9" y="828.7" width="176.1" height="89.3" rx="19" fill="#fff" stroke="#000" stroke-width="4.2"/>
<path d="M107.6,128.3 L128.3,128.6 M115.8,118.4 L119.7,153.9 M110.2,143.4 L127.3,141.4 M135.9,113.5 L163.8,113.5 M149.7,105.6 L149.7,126.9 M134.9,126.9 L165.8,127.3 M132.9,140.1 L167.8,141.1 M155.9,133.5 L157.6,161.2 L148.4,161.2 M136.4,149.3 L139.7,156.6" fill="none" stroke="#fff" stroke-width="4.9" stroke-linecap="butt" stroke-linejoin="miter" stroke-miterlimit="2"/>
<path d="M191.4,112.3 L183.5,131.5 L194.2,131.2 M201.2,122.8 L187.1,145.3 L201.5,145.6 M183.5,156.0 L202.6,153.2 M221.8,106.7 L221.0,121.9 M209.4,114.6 L232.2,114.0 M206.0,125.0 L237.0,124.5 L237.0,133.2 M208.0,134.9 L211.1,138.8 M215.6,130.9 L219.3,135.7 M207.1,145.6 L233.4,146.2 M228.3,134.3 L210.0,162.5 M218.4,154.1 L235.6,161.4" fill="none" stroke="#fff" stroke-width="4.9" stroke-linecap="butt" stroke-linejoin="miter" stroke-miterlimit="2"/>
<path d="M256.2,119.7 L275.3,113.1 M266.1,119.1 L270.0,136.8 M297.0,105.9 L297.6,111.2 M283.2,112.1 L309.1,112.8 M281.2,120.4 L305.2,121.0 M295.7,117.1 L297.0,136.8 M286.1,129.6 L307.8,128.9 M286.1,137.5 L305.9,137.5 M267.4,147.7 L301.9,147.3 M283.8,142.1 L285.5,163.1 L280.9,162.8 M271.6,154.6 L266.1,161.5 M299.6,155.2 L308.2,160.5" fill="none" stroke="#fff" stroke-width="4.9" stroke-linecap="butt" stroke-linejoin="miter" stroke-miterlimit="2"/>
<path d="M334.1,123.0 L378.6,121.7 M337.8,131.6 L334.1,159.2 M337.8,145.0 L351.9,145.4 L351.6,158.2 L346.0,158.2 M361.4,110.5 L378.2,158.2 L384.1,156.2 M380.5,138.8 L365.4,154.6 M377.9,108.2 L382.8,115.8" fill="none" stroke="#fff" stroke-width="4.9" stroke-linecap="butt" stroke-linejoin="miter" stroke-miterlimit="2"/>
<path d="M846.8,355.4 L852.7,357.3 M844.7,365.9 L850.2,366.8 M847.0,376.5 L851.6,374.8 M855.4,350.5 L874.7,351.6 M857.3,354.9 L854.2,369.3 M868.1,354.7 L868.3,357.7 M865.4,358.3 L876.0,358.3 L876.0,370.4 L861.4,370.4 L861.8,358.5 M862.0,364.0 L867.5,364.2 M867.3,373.6 L869.0,380.7 L865.4,380.7 M860.7,374.6 L857.8,378.8 M873.4,374.8 L876.4,378.4" fill="none" stroke="#000" stroke-width="2.9" stroke-linecap="butt" stroke-linejoin="miter" stroke-miterlimit="2"/>
<path d="M886.3,356.6 L899.7,358.1 M891.8,358.1 L885.5,368.7 M891.0,369.7 L897.4,369.7 L897.4,375.3 L891.0,375.3Z M903.7,354.5 L915.5,355.2 L914.7,363.2 M904.1,358.5 L904.3,367.8 L917.2,367.0 L916.8,379.3 L911.5,378.8 M900.9,374.2 L911.5,372.9" fill="none" stroke="#000" stroke-width="2.9" stroke-linecap="butt" stroke-linejoin="miter" stroke-miterlimit="2"/>
<path d="M944.1,349.6 L944.7,353.2 M930.2,353.8 L956.0,354.6 M933.1,354.6 L928.9,372.6 M935.2,361.6 L954.9,362.2 M944.5,358.0 L938.2,369.6 L954.7,370.1 M948.1,366.1 L948.8,382.6 M935.9,376.8 L957.2,375.4" fill="none" stroke="#000" stroke-width="2.9" stroke-linecap="butt" stroke-linejoin="miter" stroke-miterlimit="2"/>
<path d="M1324.4,366.7 A12.3,12.3 0 1 0 1325.1,382.4" fill="none" stroke="#000" stroke-width="2.9"/>
<path d="M1329.3,362.7 L1343.4,362.9 M1335.9,363.2 L1334.9,386.4 M1328.8,386.7 L1341.8,386.9" fill="none" stroke="#000" stroke-width="2.9" stroke-linecap="butt" stroke-linejoin="miter" stroke-miterlimit="2"/>
<path d="M1363.9,369.2 L1362.8,383.5 M1367.5,368.0 L1373.6,368.4 L1373.8,383.5 L1370.5,384.0 M1364.4,374.1 L1368.9,374.3 M1364.4,378.8 L1368.4,379.0 M1380.1,366.3 L1380.4,390.1 M1382.3,363.3 L1392.1,364.5 L1391.9,371.0 L1388.4,371.0 M1383.7,376.9 L1393.3,377.4 L1389.3,390.3 M1383.9,383.2 L1395.4,387.2" fill="none" stroke="#000" stroke-width="2.9" stroke-linecap="butt" stroke-linejoin="miter" stroke-miterlimit="2"/>
<path d="M1415.7,359.2 L1407.1,374.0 M1415.0,364.1 L1427.3,365.0 L1410.8,381.5 M1414.6,370.2 L1434.1,377.5 M1413.6,382.7 L1430.6,383.1 L1430.1,391.1 L1426.3,390.9 M1421.6,378.2 L1416.0,392.5 M1447.8,362.0 L1455.2,362.0 L1455.2,368.5 L1447.8,368.5Z M1463.5,362.3 L1471.4,362.3 L1471.4,368.5 L1463.5,368.5Z M1447.7,374.9 L1473.3,375.6 M1458.0,371.9 L1446.3,385.7 M1467.2,370.7 L1472.6,380.6 M1452.7,383.9 L1459.4,383.9 L1459.4,389.4 L1452.7,389.4Z M1465.6,383.9 L1471.4,383.9 L1471.4,389.4 L1465.6,389.4Z" fill="none" stroke="#000" stroke-width="2.9" stroke-linecap="butt" stroke-linejoin="miter" stroke-miterlimit="2"/>
<path d="M1622.5,323.3 L1640.8,323.3 M1631.9,315.1 L1633.1,345.4 M1623.5,337.4 L1631.9,330.4 M1632.4,331.3 L1640.1,334.4 M1653.8,311.3 L1644.4,323.6 M1650.7,318.6 L1667.2,320.3 L1665.0,348.7 L1658.0,348.0 M1650.2,329.9 L1644.6,341.2 L1658.9,341.4 L1656.6,334.6" fill="none" stroke="#000" stroke-width="3.8" stroke-linecap="butt" stroke-linejoin="miter" stroke-miterlimit="2"/>
<path d="M1680.1,326.1 L1691.4,326.4 L1685.5,336.7 L1692.6,338.4 L1686.0,349.9 M1681.5,342.6 L1714.6,348.2 M1698.2,313.2 L1721.7,314.4 L1721.2,326.6 L1700.3,325.7 M1694.4,320.0 L1726.6,321.0 M1709.9,310.4 L1709.9,344.2 M1700.3,332.7 L1721.0,332.5 M1700.1,339.3 L1719.6,338.8" fill="none" stroke="#000" stroke-width="3.8" stroke-linecap="butt" stroke-linejoin="miter" stroke-miterlimit="2"/>
<path d="M1624.4,447.9 L1632.2,450.3 M1623.0,461.6 L1630.0,462.3 M1625.8,475.6 L1631.7,472.6 M1637.3,447.9 L1636.9,466.2 M1640.4,447.7 L1650.5,448.2 L1650.0,466.0 M1644.6,458.5 L1638.0,479.6 M1642.7,472.1 L1648.1,475.4 M1657.1,455.9 L1658.0,469.5 M1664.1,450.3 L1667.2,476.1 L1661.5,476.4" fill="none" stroke="#000" stroke-width="3.8" stroke-linecap="butt" stroke-linejoin="miter" stroke-miterlimit="2"/>
<path d="M1683.4,446.3 L1691.1,448.4 M1680.3,455.9 L1689.7,457.3 L1687.9,475.4 L1693.5,476.1 M1696.3,451.9 L1722.6,452.4 M1712.5,443.9 L1721.7,476.6 L1725.9,474.9 M1719.3,440.6 L1725.0,444.4 M1697.5,466.2 L1712.5,466.0 M1705.2,466.7 L1705.7,476.4 M1698.7,478.0 L1711.4,476.4" fill="none" stroke="#000" stroke-width="3.8" stroke-linecap="butt" stroke-linejoin="miter" stroke-miterlimit="2"/>
<path d="M1631.8,580.3 L1625.9,594.5 L1634.1,593.8 M1639.0,587.8 L1628.7,604.6 L1640.1,605.1 M1625.3,614.7 L1641.1,612.1 M1654.3,577.2 L1655.1,596.4 M1642.9,585.2 L1668.2,585.0 M1645.2,597.1 L1664.1,597.1 M1652.7,605.4 L1664.9,605.7 L1665.4,616.8 L1648.3,617.0 L1647.8,605.7" fill="none" stroke="#000" stroke-width="3.6" stroke-linecap="butt" stroke-linejoin="miter" stroke-miterlimit="2"/>
<path d="M1689.1,578.3 L1688.1,597.6 L1719.6,597.9 M1696.1,578.8 L1718.0,579.8 L1718.0,597.9 M1689.9,588.3 L1711.1,588.3 M1702.6,584.5 L1704.6,616.8 L1700.5,617.3 M1685.8,605.4 L1719.9,605.7 M1691.2,612.1 L1687.8,617.5 M1716.8,612.1 L1720.4,616.8" fill="none" stroke="#000" stroke-width="3.6" stroke-linecap="butt" stroke-linejoin="miter" stroke-miterlimit="2"/>
<path d="M428.6,568.9 L447.6,569.2 M437.5,560.3 L439.9,591.6 M430.4,582.7 L445.5,580.6 M456.1,556.5 L471.5,556.5 L471.5,569.1 L456.1,569.1Z M456.8,562.8 L463.3,562.8 M451.3,578.4 L476.7,577.2 M464.2,579.4 L464.8,592.2 M465.4,585.5 L475.8,586.1 M453.4,586.7 L451.9,595.6 L468.5,597.8" fill="none" stroke="#000" stroke-width="4.2" stroke-linecap="butt" stroke-linejoin="miter" stroke-miterlimit="2"/>
<path d="M516.3,553.6 L516.0,561.0 M493.9,561.0 L536.0,563.1 M503.4,568.3 L495.2,580.6 M523.7,570.2 L534.7,575.7 M525.5,581.5 L506.8,600.5 M505.6,583.7 L527.1,600.2" fill="none" stroke="#000" stroke-width="4.2" stroke-linecap="butt" stroke-linejoin="miter" stroke-miterlimit="2"/>
<path d="M1090.6,856.3 L1083.0,872.0 L1093.4,871.4 M1098.6,864.6 L1086.7,882.4 L1099.8,882.7 M1084.2,893.5 L1100.8,890.7 M1115.2,853.3 L1115.5,873.5 M1103.2,861.3 L1129.9,861.6 M1105.7,874.1 L1125.6,874.1 M1114.0,882.4 L1126.2,882.7 L1126.8,895.9 L1108.1,895.9 L1107.5,883.3 M1151.7,853.9 L1151.1,875.1 L1184.8,875.7 M1160.0,853.9 L1184.2,855.1 L1184.8,875.4 M1152.9,864.6 L1175.6,864.6 M1166.4,860.6 L1169.5,896.5 L1164.3,897.1 M1148.9,883.3 L1184.5,883.3 M1154.8,889.8 L1150.8,896.2 M1181.7,890.1 L1186.3,895.3" fill="none" stroke="#000" stroke-width="4.1" stroke-linecap="butt" stroke-linejoin="miter" stroke-miterlimit="2"/>
</svg>
<div class="t" style="position:absolute;left:1767px;top:1013px;font-size:18px;color:#8a8a8a;white-space:nowrap">@稀土掘金技术社区</div>
</body></html>
